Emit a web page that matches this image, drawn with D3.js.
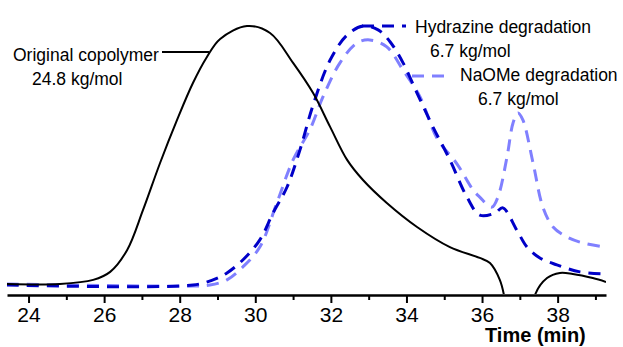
<!DOCTYPE html>
<html>
<head>
<meta charset="utf-8">
<script src="https://cdn.jsdelivr.net/npm/d3@7"></script>
<style>
  body { margin: 0; background: #fff; }
  text { font-family: "Liberation Sans", Arial, sans-serif; fill: #000; }
</style>
</head>
<body>
<script>
// Retention time (min) and normalised detector signal
var origTime   = [23.43, 24.83, 25.71, 26.16, 26.61, 27.03, 27.48, 27.93, 28.35, 28.72, 29.07, 29.78, 30.39, 31.00, 31.53, 31.98, 32.43, 32.85, 33.48, 34.28, 35.15, 35.94, 36.21, 36.47, 36.58, 36.8, 37.2, 37.40, 37.72, 38.06, 38.40, 38.93, 39.28];
var origSignal = [0, 0, 0.016, 0.047, 0.132, 0.287, 0.469, 0.636, 0.779, 0.880, 0.95, 1.0, 0.973, 0.857, 0.740, 0.609, 0.481, 0.403, 0.314, 0.221, 0.143, 0.101, 0.081, 0.016, -0.043, -0.3, -0.3, -0.043, 0.023, 0.043, 0.039, 0.023, 0.008];

var hydTime   = [23.43, 28.35, 28.88, 29.25, 29.67, 30.12, 30.47, 30.84, 31.18, 31.53, 31.98, 32.43, 32.85, 33.25, 33.56, 33.91, 34.28, 34.70, 35.15, 35.60, 35.94, 36.34, 36.55, 36.92, 37.19, 37.53, 37.98, 38.59, 39.25];
var hydSignal = [-0.004, -0.004, 0.016, 0.043, 0.093, 0.171, 0.275, 0.376, 0.519, 0.694, 0.868, 0.965, 1.0, 0.985, 0.94, 0.857, 0.740, 0.609, 0.481, 0.337, 0.267, 0.275, 0.295, 0.209, 0.143, 0.101, 0.074, 0.047, 0.039];

var naoTime   = [23.43, 28.35, 28.80, 29.25, 29.67, 30.12, 30.57, 31.00, 31.45, 31.79, 32.24, 32.69, 33.03, 33.48, 33.91, 34.36, 34.81, 35.34, 35.76, 35.94, 36.26, 36.42, 36.66, 36.82, 36.95, 37.08, 37.35, 37.61, 37.88, 38.25, 38.67, 39.25];
var naoSignal = [0, -0.008, -0.004, 0.016, 0.066, 0.143, 0.314, 0.481, 0.6, 0.725, 0.857, 0.934, 0.946, 0.919, 0.829, 0.725, 0.565, 0.465, 0.365, 0.337, 0.298, 0.337, 0.492, 0.624, 0.663, 0.636, 0.469, 0.298, 0.221, 0.182, 0.159, 0.143];

var majorTicks = [24, 26, 28, 30, 32, 34, 36, 38];
var minorTicks = [25, 27, 29, 31, 33, 35, 37, 39];

var labels = [
  {lines: ["Original copolymer", "24.8 kg/mol"], x: [13, 32], y: 61, lx1: 162, lx2: 209, ly: 52, color: "#000", dash: null},
  {lines: ["Hydrazine degradation", "6.7 kg/mol"], x: [415, 430], y: 33, lx1: 362, lx2: 406, ly: 26, color: "#0000c8", dash: "12,8"},
  {lines: ["NaOMe degradation", "6.7 kg/mol"], x: [460, 478], y: 81, lx1: 412, lx2: 450, ly: 76, color: "#8080ff", dash: "12,8"}
];

var W = 623, H = 347;
var svg = d3.select("body").append("svg").attr("width", W).attr("height", H);

var x = d3.scaleLinear().domain([23.43, 39.28]).range([7, 606]);
var y = d3.scaleLinear().domain([0, 1]).range([284, 26]);
var axisY = 295;

svg.append("clipPath").attr("id", "plot")
  .append("rect").attr("x", 0).attr("y", 0).attr("width", 606).attr("height", axisY - 1);

var g = svg.append("g").attr("clip-path", "url(#plot)");

function trace(times, vals, color, width, dash) {
  var pts = times.map(function(t, i) { return [t, vals[i]]; });
  var line = d3.line()
    .x(function(d) { return x(d[0]); })
    .y(function(d) { return y(d[1]); })
    .curve(d3.curveCatmullRom.alpha(0.5));
  var p = g.append("path").datum(pts)
    .attr("d", line)
    .attr("fill", "none")
    .attr("stroke", color)
    .attr("stroke-width", width);
  if (dash) p.attr("stroke-dasharray", dash);
}

trace(naoTime, naoSignal, "#8080ff", 3, "12,8");
trace(hydTime, hydSignal, "#0000c8", 3, "12,8");
trace(origTime, origSignal, "#000", 2, null);

// x axis
var axis = d3.axisBottom(x).tickValues(majorTicks).tickSize(8).tickSizeOuter(0).tickFormat(d3.format("d"));
var ag = svg.append("g").attr("transform", "translate(0," + axisY + ")").call(axis);
ag.select(".domain").attr("stroke", "#000").attr("stroke-width", 2.5);
ag.selectAll(".tick line").attr("stroke", "#000").attr("stroke-width", 2);
ag.selectAll(".tick text").attr("font-size", 21).attr("dy", 0).attr("y", 27)
  .style("font-family", "Liberation Sans, Arial, sans-serif");

var minor = d3.axisBottom(x).tickValues(minorTicks).tickSize(5).tickSizeOuter(0).tickFormat("");
var mg = svg.append("g").attr("transform", "translate(0," + axisY + ")").call(minor);
mg.select(".domain").remove();
mg.selectAll(".tick line").attr("stroke", "#000").attr("stroke-width", 2);

svg.append("text").attr("x", 485).attr("y", 342)
  .attr("font-size", 20).attr("font-weight", "bold").text("Time (min)");

// annotations
labels.forEach(function(l) {
  var ln = svg.append("line")
    .attr("x1", l.lx1).attr("x2", l.lx2).attr("y1", l.ly).attr("y2", l.ly)
    .attr("stroke", l.color).attr("stroke-width", l.dash ? 3 : 2);
  if (l.dash) ln.attr("stroke-dasharray", l.dash);
  l.lines.forEach(function(s, i) {
    svg.append("text").attr("x", l.x[i]).attr("y", l.y + i * 24)
      .attr("font-size", 17.5).text(s);
  });
});
</script>
</body>
</html>
